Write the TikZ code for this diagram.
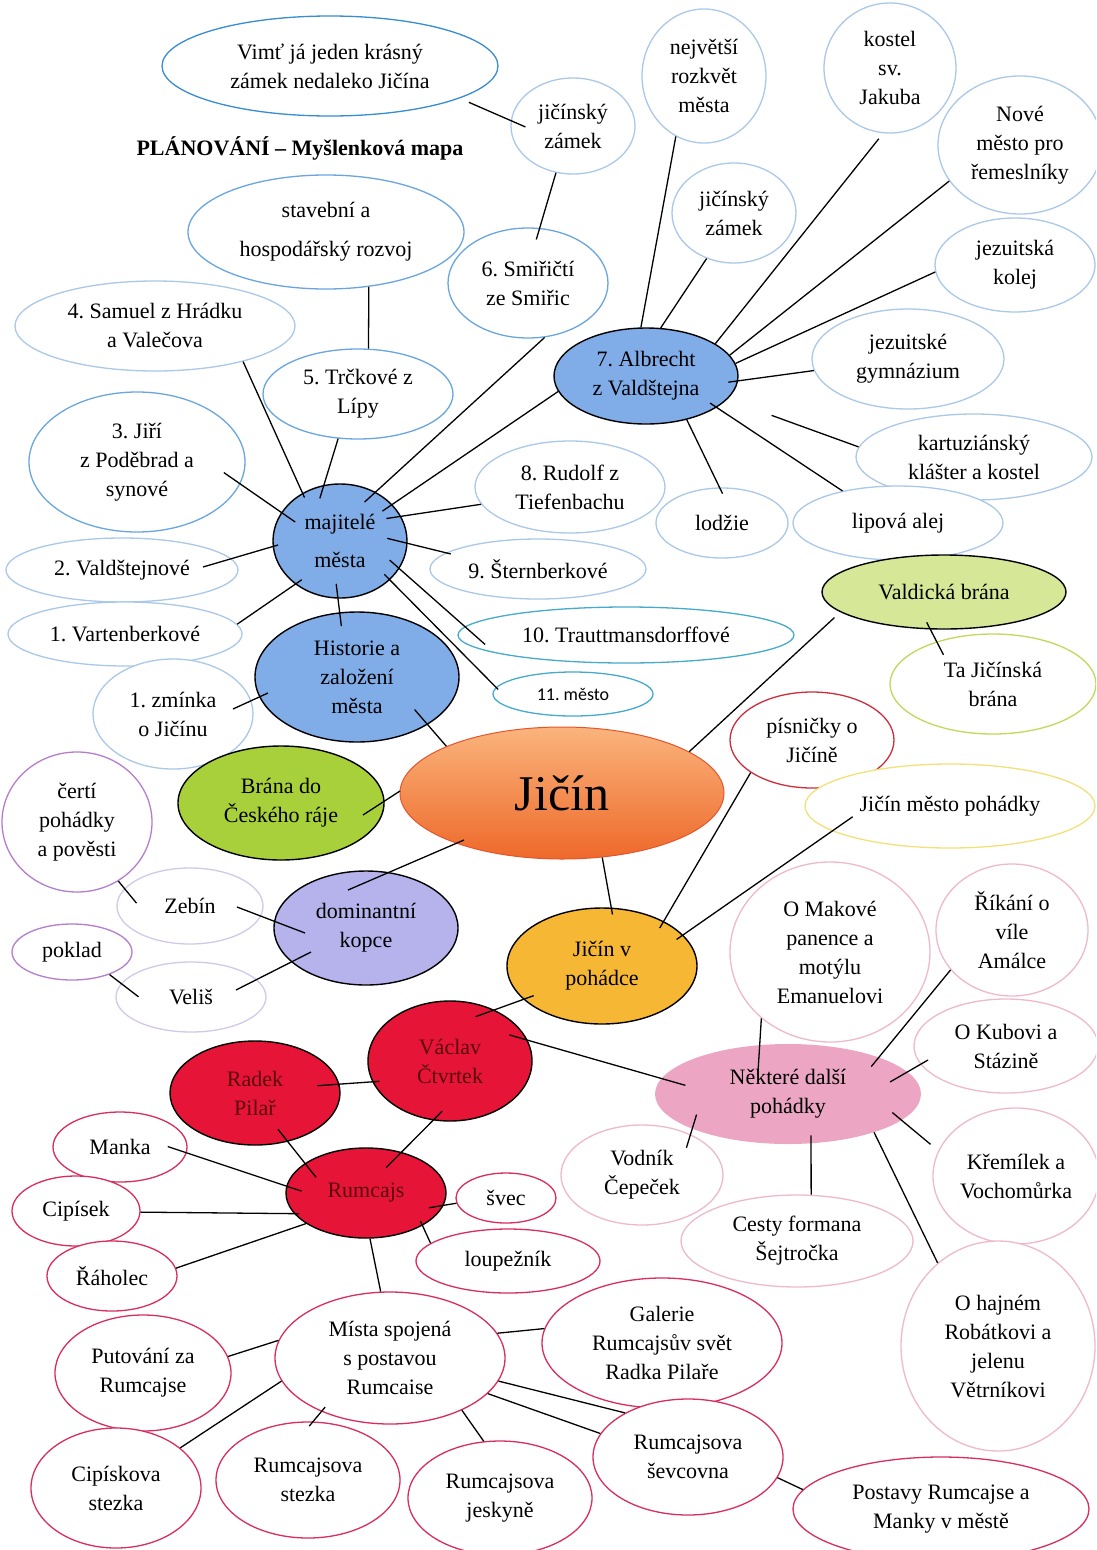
\documentclass[tikz,border=0pt]{standalone}
\usepackage{fontspec}
\setmainfont{Liberation Serif}
\newfontfamily\calib{Carlito}
\usetikzlibrary{shapes.geometric}
\definecolor{paleblue}{RGB}{170,200,232}
\definecolor{midblue}{RGB}{105,165,222}
\definecolor{brightblue}{RGB}{55,140,210}
\definecolor{cyanb}{RGB}{70,170,205}
\definecolor{bluefill}{RGB}{128,172,232}
\definecolor{jtop}{RGB}{250,180,125}
\definecolor{jbot}{RGB}{238,105,42}
\definecolor{jrim}{RGB}{228,85,45}
\definecolor{gfill}{RGB}{168,208,58}
\definecolor{lgfill}{RGB}{214,232,152}
\definecolor{ygline}{RGB}{195,215,90}
\definecolor{redline}{RGB}{205,45,60}
\definecolor{yline}{RGB}{242,225,120}
\definecolor{purp}{RGB}{180,125,205}
\definecolor{lpurp}{RGB}{210,200,232}
\definecolor{lavfill}{RGB}{182,178,236}
\definecolor{ofill}{RGB}{246,184,52}
\definecolor{rfill}{RGB}{230,20,55}
\definecolor{rtext}{RGB}{90,8,12}
\definecolor{pfill}{RGB}{236,166,196}
\definecolor{lpink}{RGB}{238,185,205}
\definecolor{rpink}{RGB}{215,45,95}
\newcommand{\nf}{\fontsize{22}{29}\selectfont\frenchspacing}
\begin{document}
\frenchspacing
\begin{tikzpicture}[x=1pt,y=-1pt,
  ell/.style={ellipse,inner sep=0pt,align=center,font=\nf,text=black},
  bo/.style={ell,draw=#1,line width=1.3pt,fill=white},
  fl/.style={ell,draw=black,line width=1.4pt,fill=#1},
  sz/.style 2 args={minimum width=#1pt,minimum height=#2pt},
  ln/.style={draw=black,line width=1.3pt}]
\useasboundingbox (0,0) rectangle (1096,1550);
\clip (0,0) rectangle (1096,1550);
\fill[white] (0,0) rectangle (1096,1550);

\node[font=\fontsize{22}{26}\selectfont\bfseries\frenchspacing] (title) at (300,148) {PLÁNOVÁNÍ – Myšlenková mapa};

\node[bo=brightblue,sz={336}{100}] (vimt) at (330,66) {Vimť já jeden krásný\\zámek nedaleko Jičína};
\node[bo=paleblue,sz={124}{96}] (zamek1) at (573,126) {jičínský\\zámek};
\node[bo=paleblue,sz={124}{134}] (nejvetsi) at (704,76) {největší\\rozkvět\\města};
\node[bo=paleblue,sz={132}{130}] (kostel) at (890,68) {kostel\\sv.\\Jakuba};
\node[bo=paleblue,sz={164}{138}] (nove) at (1020,145) {Nové\\město pro\\řemeslníky};
\node[bo=paleblue,sz={124}{100}] (zamek2) at (734,213) {jičínský\\zámek};
\node[bo=paleblue,sz={160}{94}] (jezkolej) at (1015,265) {jezuitská\\kolej};
\node[bo=midblue,sz={160}{110}] (smiricti) at (528,283) {6. Smiřičtí\\ze Smiřic};
\node[bo=midblue,sz={276}{114}] (stavebni) at (326,232) {stavební a\\[10pt]hospodářský rozvoj};
\node[bo=paleblue,sz={280}{90}] (samuel) at (155,326) {4. Samuel z Hrádku\\a Valečova};
\node[bo=midblue,sz={190}{90}] (trckove) at (358,394) {5. Trčkové z\\Lípy};
\node[fl=bluefill,sz={184}{96}] (albrecht) at (646,376) {7. Albrecht\\z Valdštejna};
\node[bo=paleblue,sz={192}{100}] (jezgym) at (908,359) {jezuitské\\gymnázium};
\node[bo=midblue,sz={216}{140}] (jiri) at (137,462) {3. Jiří\\z Poděbrad a\\synové};
\node[bo=paleblue,sz={236}{86}] (kartuz) at (974,457) {kartuziánský\\klášter a kostel};
\node[bo=paleblue,sz={190}{92}] (rudolf) at (570,487) {8. Rudolf z\\Tiefenbachu};
\node[bo=paleblue,sz={132}{70}] (lodzie) at (722,523) {lodžie};
\node[bo=paleblue,sz={210}{74}] (lipova) at (898,523) {lipová alej};
\node[fl=bluefill,sz={134}{114}] (majitele) at (340,541) {majitelé\\[9pt]města};
\node[bo=paleblue,sz={232}{64}] (valdst) at (122,570) {2. Valdštejnové};
\node[bo=paleblue,sz={216}{60}] (sternberk) at (538,569) {9. Šternberkové};
\node[bo=paleblue,sz={234}{64}] (vartenberk) at (125,634) {1. Vartenberkové};
\node[bo=cyanb,sz={336}{56}] (trautt) at (626,635) {10. Trauttmansdorffové};
\node[bo=cyanb,sz={160}{44},font=\calib\fontsize{18}{22}\selectfont\frenchspacing] (mesto11) at (573,694) {11. město};
\node[fl=bluefill,sz={204}{130}] (historie) at (357,677) {Historie a\\založení\\města};
\node[bo=paleblue,sz={160}{110}] (zminka) at (173,714) {1. zmínka\\o Jičínu};
\node[fl=lgfill,sz={244}{74}] (valdicka) at (944,592) {Valdická brána};
\node[bo=ygline,sz={206}{100}] (tabrana) at (993,684) {Ta Jičínská\\brána};
\node[ell,sz={324}{132},top color=jtop,bottom color=jbot,draw=jrim,line width=1pt,font=\fontsize{50}{50}\selectfont] (jicin) at (562,793) {Jičín};
\node[fl=gfill,sz={206}{114}] (brana) at (281,803) {Brána do\\Českého ráje};
\node[bo=redline,sz={164}{96}] (pisnicky) at (812,740) {písničky o\\Jičíně};
\node[bo=yline,sz={290}{84}] (mestopoh) at (950,806) {Jičín město pohádky};
\node[bo=purp,sz={150}{140}] (certi) at (77,822) {čertí\\pohádky\\a pověsti};
\node[bo=lpurp,sz={146}{76}] (zebin) at (190,906) {Zebín};
\node[fl=lavfill,sz={184}{114}] (domin) at (366,928) {dominantní\\kopce};
\node[bo=purp,sz={120}{56}] (poklad) at (72,952) {poklad};
\node[bo=lpurp,sz={150}{70}] (velis) at (191,997) {Veliš};
\node[fl=ofill,sz={190}{116}] (jpoh) at (602,966) {Jičín v\\pohádce};
\node[bo=lpink,sz={200}{180}] (makove) at (830,952) {O Makové\\panence a\\motýlu\\Emanuelovi};
\node[bo=lpink,sz={152}{132}] (rikani) at (1012,930) {Říkání o\\víle\\Amálce};
\node[bo=lpink,sz={184}{94}] (kubovi) at (1006,1046) {O Kubovi a\\Stázině};
\node[fl=rfill,sz={164}{120},text=rtext] (vaclav) at (450,1061) {Václav\\Čtvrtek};
\node[fl=rfill,sz={170}{104},text=rtext] (radek) at (255,1093) {Radek\\Pilař};
\node[ell,fill=pfill,sz={266}{100}] (nektere) at (788,1094) {Některé další\\pohádky};
\node[bo=lpink,sz={162}{100}] (vodnik) at (642,1175) {Vodník\\Čepeček};
\node[bo=lpink,sz={166}{136}] (kremilek) at (1016,1176) {Křemílek a\\Vochomůrka};
\node[bo=lpink,sz={232}{92}] (cesty) at (797,1241) {Cesty formana\\Šejtročka};
\node[bo=rpink,sz={134}{70}] (manka) at (120,1147) {Manka};
\node[fl=rfill,sz={160}{90},text=rtext] (rumcajs) at (366,1193) {Rumcajs};
\node[bo=rpink,sz={100}{50}] (svec) at (506,1198) {švec};
\node[bo=rpink,sz={128}{70}] (cipisek) at (76,1211) {Cipísek};
\node[bo=rpink,sz={130}{70}] (raholec) at (112,1276) {Řáholec};
\node[bo=rpink,sz={184}{64}] (loupeznik) at (508,1261) {loupežník};
\node[bo=rpink,sz={230}{132}] (mista) at (390,1358) {Místa spojená\\s postavou\\Rumcaise};
\node[bo=rpink,sz={240}{130}] (galerie) at (662,1343) {Galerie\\Rumcajsův svět\\Radka Pilaře};
\node[bo=rpink,sz={176}{116}] (putovani) at (143,1373) {Putování za\\Rumcajse};
\node[bo=lpink,sz={194}{210}] (hajnem) at (998,1346) {O hajném\\Robátkovi a\\jelenu\\Větrníkovi};
\node[bo=rpink,sz={190}{116}] (sevcovna) at (688,1457) {Rumcajsova\\ševcovna};
\node[bo=rpink,sz={170}{120}] (cipiskova) at (116,1488) {Cipískova\\stezka};
\node[bo=rpink,sz={184}{116}] (rstezka) at (308,1480) {Rumcajsova\\stezka};
\node[bo=rpink,sz={184}{114}] (jeskyne) at (500,1498) {Rumcajsova\\jeskyně};
\node[bo=rpink,sz={296}{104}] (postavy) at (941,1509) {Postavy Rumcajse a\\Manky v městě};

% connectors
\draw[ln,shorten <=10pt,shorten >=-16pt] (vimt.-14) -- (zamek1.175);
\draw[ln,shorten >=-12pt] (zamek1.-110) -- (smiricti.78);
\draw[ln] (stavebni.-52) -- (trckove.77);
\draw[ln,shorten <=-15pt] (majitele.54) -- (smiricti.-73);
\draw[ln,shorten <=-5pt] (majitele.128) -- (samuel.-22);
\draw[ln,shorten <=-14pt] (majitele.106) -- (trckove.-114);
\draw[ln,shorten <=-12pt] (majitele.35) -- (albrecht.190);
\draw[ln,shorten <=-15pt] (majitele.22) -- (rudolf.191);
\draw[ln,shorten <=-17pt,shorten >=-20pt] (majitele.154) -- (jiri.-12);
\draw[ln] ([shift={(-62,4)}]majitele.center) -- ([shift={(81,-3)}]valdst.center);
\draw[ln,shorten <=-21pt,shorten >=-5pt] (majitele.-2) -- (sternberk.170);
\draw[ln,shorten <=-8pt] (majitele.-136) -- (vartenberk.5);
\draw[ln,shorten <=-13pt,shorten >=-27pt] (majitele.-25) -- (trautt.177);
\draw[ln,shorten <=-8pt,shorten >=-3pt] (majitele.-38) -- (mesto11.175);
\draw[ln,shorten <=-15pt,shorten >=-14pt] (majitele.-92) -- (historie.105);

\draw[ln] (albrecht.96) -- (nejvetsi.-115);
\draw[ln] (albrecht.73) -- (zamek2.-121);
\draw[ln,shorten >=7pt] (albrecht.25) -- (kostel.-96);
\draw[ln] (albrecht.14) -- (nove.-153);
\draw[ln] (albrecht.8) -- (jezkolej.185);
\draw[ln,shorten <=-10pt] (albrecht.-3) -- (jezgym.187);
\draw[ln,shorten <=47pt] (albrecht.-16) -- (kartuz.175);
\draw[ln,shorten <=-8pt] (albrecht.-24) -- (lipova.150);
\draw[ln,shorten >=-7pt] (albrecht.-47) -- (lodzie.94);

\draw[ln,shorten <=-20pt] (historie.-34) -- (jicin.158);
\draw[ln] ([shift={(-89,16)}]historie.center) -- ([shift={(60,-5)}]zminka.center);
\draw[ln,shorten <=-8pt,shorten >=-15pt] (valdicka.-110) -- (tabrana.143);
\draw[ln,shorten <=8pt] (valdicka.-169) -- (jicin.18);
\draw[ln] ([shift={(82,12)}]brana.center) -- ([shift={(-162,-2)}]jicin.center);
\draw[ln] ([shift={(-98,47)}]jicin.center) -- ([shift={(-18,-38)}]domin.center);
\draw[ln,shorten >=-7pt] (jicin.-58) -- (jpoh.81);
\draw[ln,shorten >=-8pt] (pisnicky.-152) -- (jpoh.36);
\draw[ln,shorten <=-25pt,shorten >=-8pt] (mestopoh.-168) -- (jpoh.21);
\draw[ln,shorten >=-19pt] (certi.-55) -- (zebin.165);
\draw[ln] ([shift={(47,1)}]zebin.center) -- ([shift={(-61,5)}]domin.center);
\draw[ln,shorten >=-22pt] (poklad.-31) -- (velis.169);
\draw[ln] ([shift={(45,-7)}]velis.center) -- ([shift={(-55,24)}]domin.center);
\draw[ln,shorten <=-11pt,shorten >=-20pt] (jpoh.-157) -- (vaclav.49);
\draw[ln,shorten <=-19pt,shorten >=-25pt] (vaclav.15) -- (nektere.173);
\draw[ln,shorten <=-7pt,shorten >=-22pt] (vaclav.-165) -- (radek.6);
\draw[ln,shorten <=-13pt,shorten >=-22pt] (vaclav.-106) -- (rumcajs.49);
\draw[ln,shorten <=-16pt,shorten >=-18pt] (radek.-56) -- (rumcajs.154);

\draw[ln,shorten >=-30pt] (makove.-136) -- (nektere.120);
\draw[ln,shorten >=-12pt] (rikani.-147) -- (nektere.22);
\draw[ln] ([shift={(-78,14)}]kubovi.center) -- ([shift={(102,-12)}]nektere.center);
\draw[ln,shorten <=-14pt,shorten >=-15pt] (vodnik.40) -- (nektere.-160);
\draw[ln,shorten >=-8pt] (cesty.73) -- (nektere.-65);
\draw[ln,shorten <=10pt,shorten >=-12pt] (kremilek.162) -- (nektere.-13);
\draw[ln] (hajnem.126) -- (nektere.-24);

\draw[ln,shorten <=-20pt,shorten >=-16pt] (manka.-5) -- (rumcajs.175);
\draw[ln,shorten >=-5pt] (cipisek.-1) -- (rumcajs.-164);
\draw[ln] (raholec.7) -- (rumcajs.-153);
\draw[ln,shorten >=-15pt] (svec.186) -- (rumcajs.-9);
\draw[ln,shorten >=-5pt] (loupeznik.167) -- (rumcajs.-30);
\draw[ln] (rumcajs.-85) -- (mista.98);
\draw[ln] (putovani.11) -- (mista.171);
\draw[ln] (cipiskova.32) -- (mista.-168);
\draw[ln,shorten <=-6pt,shorten >=-6pt] (rstezka.85) -- (mista.-142);
\draw[ln] (jeskyne.106) -- (mista.-36);
\draw[ln] (galerie.173) -- (mista.13);
\draw[ln] (mista.-12) -- (sevcovna.145);
\draw[ln] (mista.-20) -- (sevcovna.165);
\draw[ln] (sevcovna.-13) -- (postavy.172);
\end{tikzpicture}
\end{document}
